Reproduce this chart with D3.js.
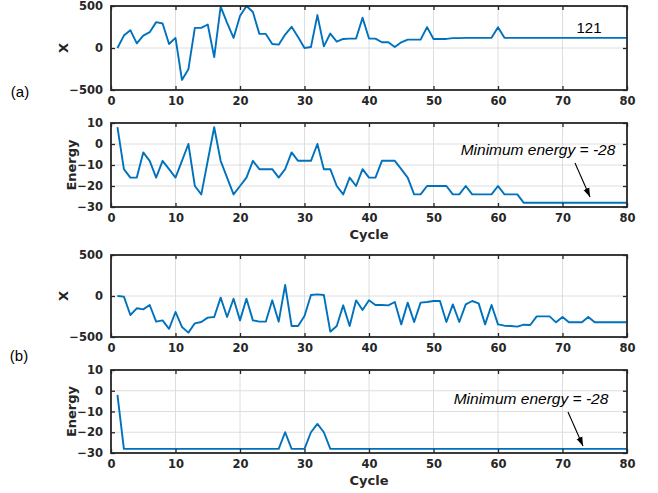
<!DOCTYPE html>
<html><head><meta charset="utf-8">
<script src="https://cdn.jsdelivr.net/npm/d3@7/dist/d3.min.js"></script>
<style>
html,body{margin:0;padding:0;background:#fff;}
svg{display:block;}
</style></head>
<body>
<svg id="chart" width="658" height="493"></svg>
<script>
// ---- data ----
const cycles = d3.range(1, 81);
const xTicks = [0, 10, 20, 30, 40, 50, 60, 70, 80];
const posTicks = [-500, 0, 500];
const energyTicks = [-30, -20, -10, 0, 10];

const posA = [0,148,212,56,148,188,308,292,48,120,
  -380,-252,240,240,280,-108,492,300,120,380,
  500,428,168,168,48,40,160,252,132,0,
  12,392,20,172,76,108,112,112,360,112,
  112,68,68,12,68,100,100,100,248,108,
  108,108,118,118,121,121,121,121,121,248,
  121,121,121,121,121,121,121,121,121,121,
  121,121,121,121,121,121,121,121,121,121];
const energyA = [8,-12,-16,-16,-4,-8,-16,-8,-12,-16,
  -8,0,-20,-24,-8,8,-8,-16,-24,-20,
  -16,-8,-12,-12,-12,-16,-12,-4,-8,-8,
  -8,0,-12,-12,-20,-24,-16,-20,-12,-16,
  -16,-8,-8,-8,-12,-16,-24,-24,-20,-20,
  -20,-20,-24,-24,-20,-24,-24,-24,-24,-20,
  -24,-24,-24,-28,-28,-28,-28,-28,-28,-28,
  -28,-28,-28,-28,-28,-28,-28,-28,-28,-28];
const posB = [0,-8,-232,-150,-163,-110,-313,-297,-400,-195,
  -378,-447,-333,-317,-264,-256,-20,-256,-33,-297,
  -33,-297,-313,-313,-53,-313,134,-366,-366,-244,
  12,20,12,-435,-366,-114,-366,-53,-171,-53,
  -110,-110,-114,-73,-346,-81,-317,-81,-73,-61,
  -61,-317,-102,-317,-102,-61,-90,-346,-110,-346,
  -362,-366,-374,-350,-354,-248,-248,-248,-321,-256,
  -321,-321,-321,-256,-321,-321,-321,-321,-321,-321];
const energyB = [-2,-28,-28,-28,-28,-28,-28,-28,-28,-28,
  -28,-28,-28,-28,-28,-28,-28,-28,-28,-28,
  -28,-28,-28,-28,-28,-28,-20,-28,-28,-28,
  -20,-16,-20,-28,-28,-28,-28,-28,-28,-28,
  -28,-28,-28,-28,-28,-28,-28,-28,-28,-28,
  -28,-28,-28,-28,-28,-28,-28,-28,-28,-28,
  -28,-28,-28,-28,-28,-28,-28,-28,-28,-28,
  -28,-28,-28,-28,-28,-28,-28,-28,-28,-28];
const finalPosLabel = "121";
const minEnergyLabel = "Minimum energy = -28";

// ---- layout ----
const svg = d3.select("#chart");
const LEFT = 111, RIGHT = 627;
const frameColor = "#262626";
const lineColor = "#0072BD";
const tickFont = "'DejaVu Sans', sans-serif";
const x = d3.scaleLinear().domain([0, 80]).range([LEFT, RIGHT]);

const panels = [
  {top: 6,   bottom: 90,  domain: [-500, 500], ticks: posTicks,    data: posA,    ylabel: "X",      lx: 68},
  {top: 123, bottom: 207, domain: [-30, 10],   ticks: energyTicks, data: energyA, ylabel: "Energy", lx: 76, xlabel: true},
  {top: 255, bottom: 337, domain: [-500, 500], ticks: posTicks,    data: posB,    ylabel: "X",      lx: 68},
  {top: 370, bottom: 453, domain: [-30, 10],   ticks: energyTicks, data: energyB, ylabel: "Energy", lx: 76, xlabel: true}
];

const fmt = v => (v < 0 ? "\u2212" + Math.abs(v) : String(v));

svg.append("defs").append("marker")
  .attr("id", "arrow").attr("viewBox", "0 0 10 10")
  .attr("refX", 10).attr("refY", 5)
  .attr("markerWidth", 9).attr("markerHeight", 9)
  .attr("markerUnits", "userSpaceOnUse")
  .attr("orient", "auto")
  .append("path").attr("d", "M0,1.5 L10,5 L0,8.5 Z").attr("fill", "#000");

panels.forEach((p, i) => {
  const y = d3.scaleLinear().domain(p.domain).range([p.bottom, p.top]);
  const g = svg.append("g");

  // grid
  g.append("g").selectAll("line").data(xTicks.slice(1, -1)).join("line")
    .attr("x1", d => x(d)).attr("x2", d => x(d))
    .attr("y1", p.top).attr("y2", p.bottom)
    .attr("stroke", "#dedede").attr("stroke-width", 1);
  g.append("g").selectAll("line").data(p.ticks.slice(1, -1)).join("line")
    .attr("x1", LEFT).attr("x2", RIGHT)
    .attr("y1", d => y(d)).attr("y2", d => y(d))
    .attr("stroke", "#dedede").attr("stroke-width", 1);

  // data line
  const line = d3.line().x((d, j) => x(cycles[j])).y(d => y(d));
  g.append("path").datum(p.data)
    .attr("d", line).attr("fill", "none")
    .attr("stroke", lineColor).attr("stroke-width", 1.9)
    .attr("stroke-linejoin", "round");

  // axes (ticks inward)
  const bottomAxis = d3.axisBottom(x).tickValues(xTicks).tickSize(-4).tickPadding(7).tickFormat(fmt);
  const topAxis = d3.axisTop(x).tickValues(xTicks).tickSize(-4).tickFormat("");
  const leftAxis = d3.axisLeft(y).tickValues(p.ticks).tickSize(-4).tickPadding(8).tickFormat(fmt);
  const rightAxis = d3.axisRight(y).tickValues(p.ticks).tickSize(-4).tickFormat("");

  const styleAxis = sel => {
    sel.select(".domain").remove();
    sel.selectAll(".tick line").attr("stroke", frameColor).attr("stroke-width", 1.3);
    sel.selectAll("text").attr("fill", "#262626")
      .attr("font-family", tickFont).attr("font-weight", "bold").attr("font-size", 11.5);
  };
  g.append("g").attr("transform", `translate(0,${p.bottom})`).call(bottomAxis).call(styleAxis);
  g.append("g").attr("transform", `translate(0,${p.top})`).call(topAxis).call(styleAxis);
  g.append("g").attr("transform", `translate(${LEFT},0)`).call(leftAxis).call(styleAxis);
  g.append("g").attr("transform", `translate(${RIGHT},0)`).call(rightAxis).call(styleAxis);

  // frame
  g.append("rect").attr("x", LEFT).attr("y", p.top)
    .attr("width", RIGHT - LEFT).attr("height", p.bottom - p.top)
    .attr("fill", "none").attr("stroke", frameColor).attr("stroke-width", 1.8);

  // y label
  g.append("text")
    .attr("transform", `translate(${p.lx},${(p.top + p.bottom) / 2}) rotate(-90)`)
    .attr("text-anchor", "middle")
    .attr("font-family", tickFont).attr("font-weight", "bold").attr("font-size", 13)
    .attr("fill", "#262626").text(p.ylabel);

  if (p.xlabel) {
    g.append("text")
      .attr("x", (LEFT + RIGHT) / 2).attr("y", p.bottom + 32)
      .attr("text-anchor", "middle")
      .attr("font-family", tickFont).attr("font-weight", "bold").attr("font-size", 13)
      .attr("fill", "#262626").text("Cycle");
  }
  p.y = y;
});

// annotations
const annFont = "'Liberation Sans', Arial, sans-serif";
svg.append("text").attr("x", 589).attr("y", 33).attr("text-anchor", "middle")
  .attr("font-family", annFont).attr("font-size", 15).attr("fill", "#000").text(finalPosLabel);

[{p: panels[1], tx: 538, ty: 155, a: [575, 163, 590, 197]},
 {p: panels[3], tx: 531, ty: 404, a: [568, 412, 583, 446]}].forEach(o => {
  svg.append("text").attr("x", o.tx).attr("y", o.ty).attr("text-anchor", "middle")
    .attr("font-family", annFont).attr("font-style", "italic").attr("font-size", 15.5)
    .attr("fill", "#000").text(minEnergyLabel);
  svg.append("line").attr("x1", o.a[0]).attr("y1", o.a[1]).attr("x2", o.a[2]).attr("y2", o.a[3])
    .attr("stroke", "#000").attr("stroke-width", 1.1).attr("marker-end", "url(#arrow)");
});

svg.append("text").attr("x", 20).attr("y", 97).attr("text-anchor", "middle")
  .attr("font-family", annFont).attr("font-size", 15).attr("fill", "#000").text("(a)");
svg.append("text").attr("x", 19).attr("y", 361).attr("text-anchor", "middle")
  .attr("font-family", annFont).attr("font-size", 15).attr("fill", "#000").text("(b)");
</script>
</body></html>
